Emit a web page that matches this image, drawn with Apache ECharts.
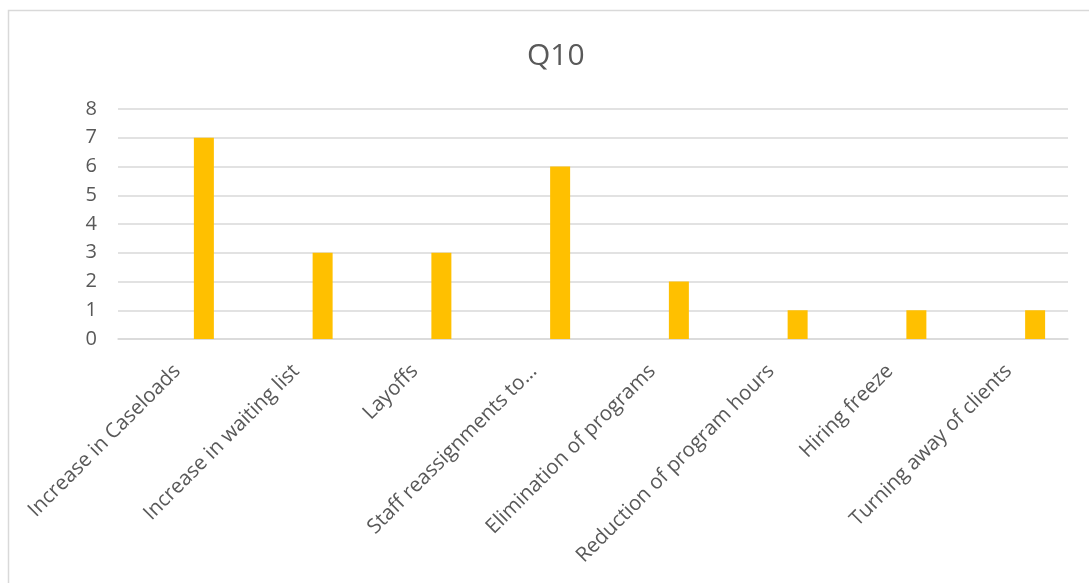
<!DOCTYPE html>
<html>
<head>
<meta charset="utf-8">
<script src="https://cdn.jsdelivr.net/npm/echarts@6/dist/echarts.min.js"></script>
<style>
html,body{margin:0;padding:0;background:#fff;}
#chart{width:1089px;height:583px;}
</style>
</head>
<body>
<div id="chart"></div>
<script>
const titleText = 'Q10';
const categories = [
  'Increase in Caseloads',
  'Increase in waiting list',
  'Layoffs',
  'Staff reassignments to…',
  'Elimination of programs',
  'Reduction of program hours',
  'Hiring freeze',
  'Turning away of clients'
];
const values = [7, 3, 3, 6, 2, 1, 1, 1];
const blankSeries = [null, null, null, null, null, null, null, null];
const yTicks = { min: 0, max: 8, interval: 1 };

const chart = echarts.init(document.getElementById('chart'), null, {renderer: 'canvas'});
const font = '"Open Sans", "Noto Sans", sans-serif';
chart.setOption({
  animation: false,
  backgroundColor: '#ffffff',
  graphic: [{
    type: 'rect',
    shape: {x: 8.5, y: 10.5, width: 1100, height: 600},
    style: {fill: 'none', stroke: '#D9D9D9', lineWidth: 1.5},
    silent: true, z: -1
  }],
  title: {
    text: titleText,
    left: 522,
    top: 36,
    textStyle: {fontFamily: font, fontSize: 30, fontWeight: 'normal', color: '#595959'}
  },
  grid: {left: 118, right: 21, top: 109, bottom: 244, containLabel: false},
  xAxis: {
    type: 'category',
    data: categories,
    boundaryGap: true,
    axisLine: {show: true, lineStyle: {color: '#D9D9D9', width: 1.5}},
    axisTick: {show: false},
    axisLabel: {
      interval: 0,
      rotate: 45,
      margin: 29,
      color: '#595959',
      fontFamily: font,
      fontSize: 20.5
    }
  },
  yAxis: {
    type: 'value',
    min: yTicks.min,
    max: yTicks.max,
    interval: yTicks.interval,
    axisLine: {show: false},
    axisTick: {show: false},
    splitLine: {lineStyle: {color: '#D9D9D9', width: 1.5}},
    axisLabel: {color: '#595959', fontFamily: font, fontSize: 20, margin: 21}
  },
  series: [
    {
      name: 'blank',
      type: 'bar',
      data: blankSeries,
      barWidth: 20,
      barGap: '165%',
      itemStyle: {color: 'transparent'}
    },
    {
      name: 'Q10',
      type: 'bar',
      data: values,
      barWidth: 20,
      barGap: '165%',
      itemStyle: {color: '#FFC000'}
    }
  ]
});
</script>
</body>
</html>
